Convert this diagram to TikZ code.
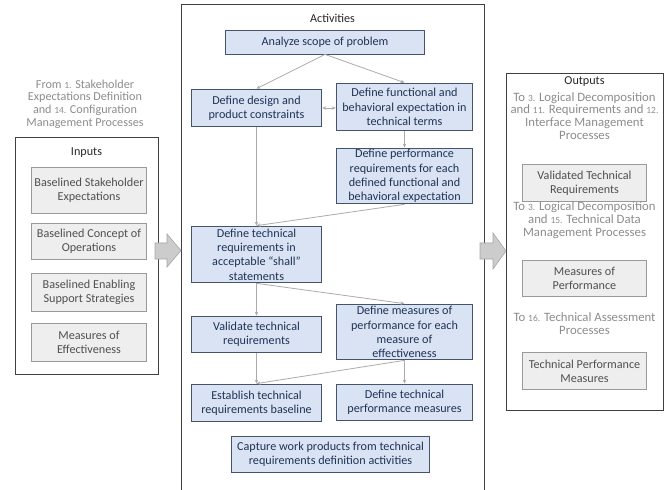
\documentclass[tikz,border=0pt]{standalone}
\usepackage{fontspec}
\setmainfont{Carlito}
\usetikzlibrary{arrows.meta}
\definecolor{actfill}{HTML}{DAE3F3}
\definecolor{actline}{HTML}{44546A}
\definecolor{acttext}{HTML}{1F3356}
\definecolor{grayfill}{HTML}{EEEEEE}
\definecolor{grayline}{HTML}{9A9A9A}
\definecolor{graytext}{HTML}{505050}
\definecolor{captext}{HTML}{8C8C8C}
\definecolor{flowgray}{HTML}{ABABAB}
% small figures for process numbers
\newcommand{\procnum}[1]{{\fontsize{9.5}{12.7}\selectfont #1}}
\tikzset{
  frame/.style={draw=black!75, line width=1pt},
  title/.style={font=\fontsize{12.2}{14.3}\selectfont, text=black!85},
  actbox/.style={draw=actline, fill=actfill, line width=0.9pt, align=center,
    text=acttext, font=\fontsize{12.2}{14.3}\selectfont, inner sep=1pt},
  iobox/.style={draw=grayline, fill=grayfill, line width=0.9pt, align=center,
    text=graytext, font=\fontsize{12.2}{14.3}\selectfont, inner sep=1pt,
    minimum height=38},
  caption/.style={align=center, text=captext, font=\fontsize{12.2}{12.7}\selectfont},
  outcaption/.style={caption, font=\fontsize{12.8}{12.9}\selectfont},
  flow/.style={-{Stealth[length=4pt, width=3.5pt]}, draw=flowgray, line width=0.8pt},
  blockarrow/.style={fill=black!20, draw=black!35, line width=0.6pt},
}

\begin{document}
\begin{tikzpicture}[x=1bp, y=-1bp]
  \useasboundingbox (0,0) rectangle (667,490);
  \clip (0,0) rectangle (667,490);

  % Frames
  \draw[frame] (15,137) rectangle (158,374);
  \draw[frame] (181,5) rectangle (484,500);
  \draw[frame] (506,74) rectangle (663,410);

  % Titles
  \node[title] (intitle) at (86.5,153) {Inputs};
  \node[title] (acttitle) at (332.5,18) {Activities};
  \node[title] (outtitle) at (584.5,82) {Outputs};

  % Inputs
  \node[caption] (incap) at (85,104) {From \procnum{1.} Stakeholder\\Expectations Definition\\and \procnum{14.} Configuration\\Management Processes};
  \node[iobox, minimum width=116, minimum height=47] (in1) at (89,190.5) {Baselined Stakeholder\\Expectations};
  \node[iobox, minimum width=116, minimum height=37] (in2) at (89,241.5) {Baselined Concept of\\Operations};
  \node[iobox, minimum width=116, minimum height=39] (in3) at (89,292.5) {Baselined Enabling\\Support Strategies};
  \node[iobox, minimum width=116, minimum height=39] (in4) at (89,342.5) {Measures of\\Effectiveness};

  % Activities
  \node[actbox, minimum width=200, minimum height=24] (analyze) at (325,42) {Analyze scope of problem};
  \node[actbox, minimum width=131, minimum height=38] (design) at (256.5,108) {Define design and\\product constraints};
  \node[actbox, minimum width=137, minimum height=48] (functional) at (404.5,107) {Define functional and\\behavioral expectation in\\technical terms};
  \node[actbox, minimum width=137, minimum height=56] (perfreq) at (404.5,176) {Define performance\\requirements for each\\defined functional and\\behavioral expectation};
  \node[actbox, minimum width=131, minimum height=57] (techreq) at (256.5,254.5) {Define technical\\requirements in\\acceptable ``shall''\\statements};
  \node[actbox, minimum width=131, minimum height=37] (validate) at (256.5,334.5) {Validate technical\\requirements};
  \node[actbox, minimum width=137, minimum height=56] (mop) at (404.5,332) {Define measures of\\performance for each\\measure of\\effectiveness};
  \node[actbox, minimum width=131, minimum height=38] (baseline) at (256.5,403) {Establish technical\\requirements baseline};
  \node[actbox, minimum width=137, minimum height=37] (tpm) at (404.5,402.5) {Define technical\\performance measures};
  \node[actbox, minimum width=199, minimum height=37] (capture) at (330.5,454.5) {Capture work products from technical\\requirements definition activities};

  % Flow between activities
  \draw[flow] (analyze.south) -- (design.north);
  \draw[flow] (analyze.south) -- (functional.north);
  \draw[flow, {Stealth[length=4pt, width=3.5pt]}-{Stealth[length=4pt, width=3.5pt]}] (design.east) -- (functional.west |- design.east);
  \draw[flow] (functional.south) -- (perfreq.north);
  \draw[flow] (design.south) -- (techreq.north);
  \draw[flow] (perfreq.south) -- (techreq.north);
  \draw[flow] (techreq.south) -- (validate.north);
  \draw[flow] (techreq.south) -- (mop.north);
  \draw[flow] (validate.south) -- (baseline.north);
  \draw[flow] (mop.south) -- (baseline.north);
  \draw[flow] (mop.south) -- (tpm.north);

  % Outputs
  \node[outcaption] (outcap1) at (584.5,116) {To \procnum{3.} Logical Decomposition\\and \procnum{11.} Requirements and \procnum{12.}\\Interface Management\\Processes};
  \node[iobox, minimum width=125, minimum height=38] (out1) at (584.5,183) {Validated Technical\\Requirements};
  \node[outcaption] (outcap2) at (584.5,220) {To \procnum{3.} Logical Decomposition\\and \procnum{15.} Technical Data\\Management Processes};
  \node[iobox, minimum width=125, minimum height=37] (out2) at (584.5,278.5) {Measures of\\Performance};
  \node[outcaption] (outcap3) at (584.5,323.5) {To \procnum{16.} Technical Assessment\\Processes};
  \node[iobox, minimum width=125, minimum height=38] (out3) at (584.5,371) {Technical Performance\\Measures};

  % Block arrows
  \draw[blockarrow] (155,243) -- (167,243) -- (167,234) -- (181,250.5)
    -- (167,267) -- (167,259) -- (155,259) -- cycle;
  \draw[blockarrow] (480,243) -- (493,243) -- (493,233) -- (506,251)
    -- (493,269) -- (493,259) -- (480,259) -- cycle;
\end{tikzpicture}
\end{document}
